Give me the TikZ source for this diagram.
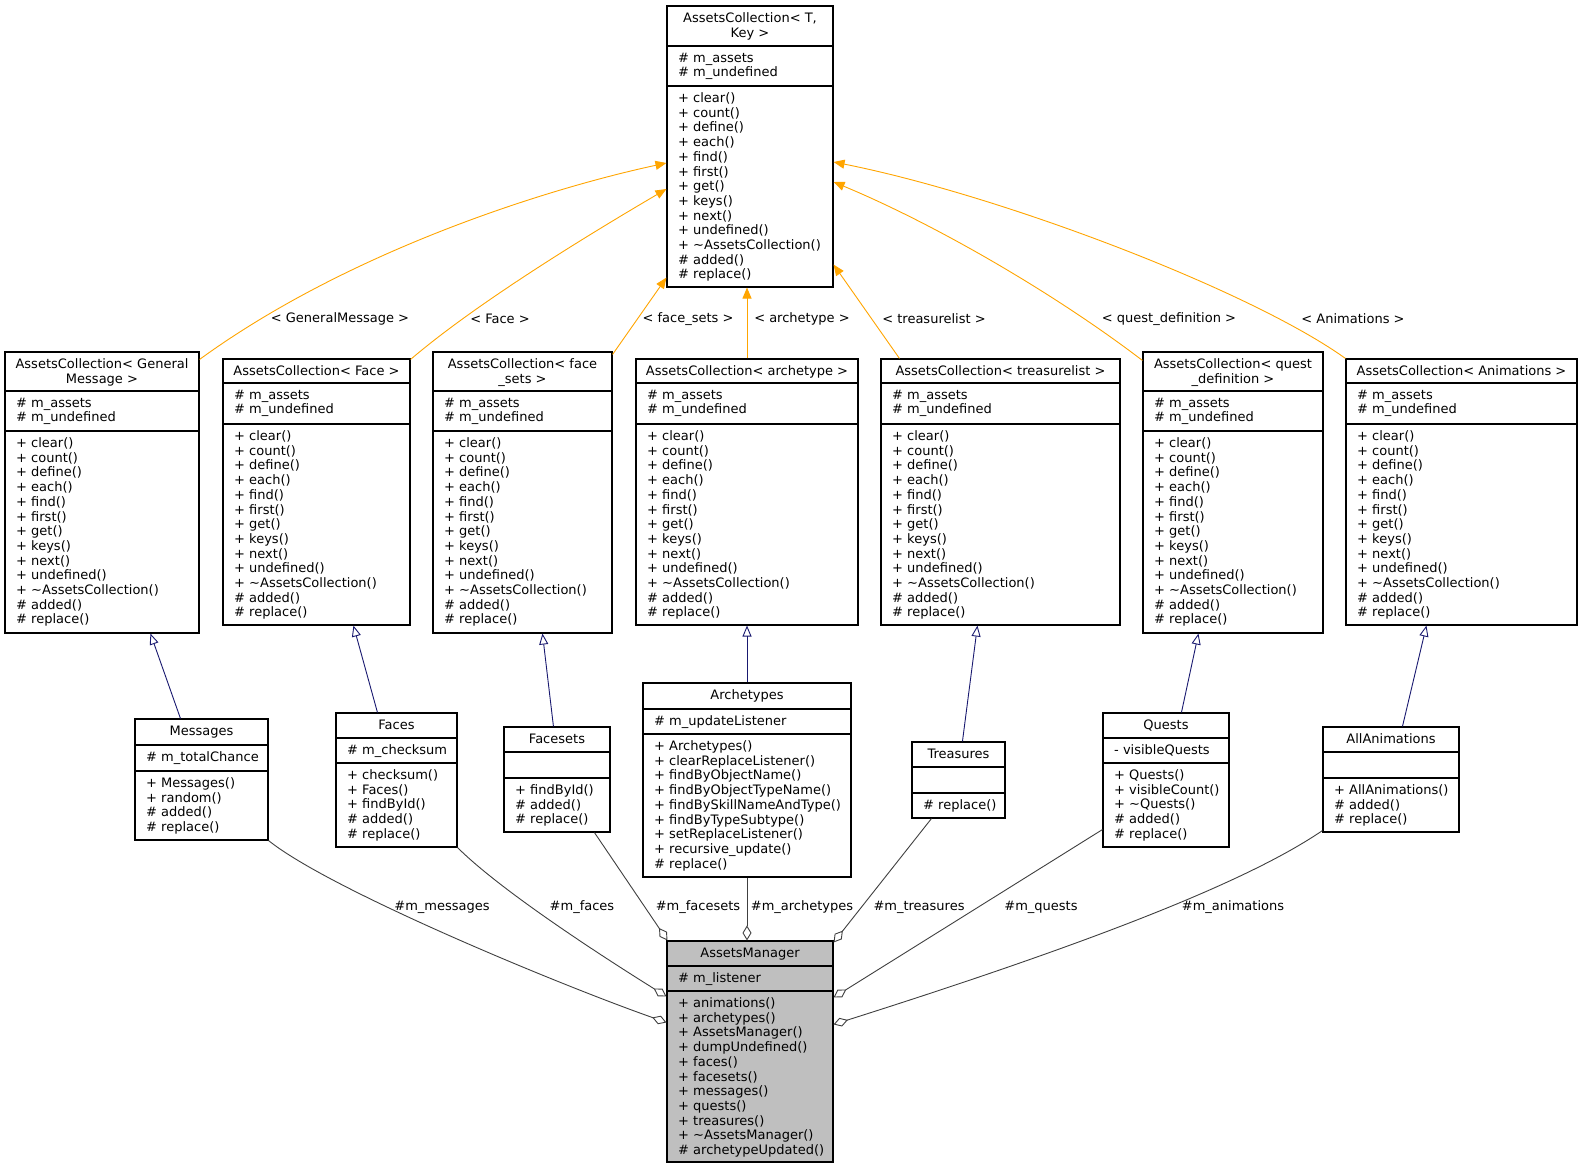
\documentclass[tikz,border=0pt]{standalone}
\usepackage{fontspec}
\setmainfont{DejaVu Sans}
\usetikzlibrary{arrows.meta,fit,calc}
\definecolor{inh}{HTML}{FFA500}
\definecolor{nav}{HTML}{191970}
\definecolor{agg}{HTML}{404040}
\definecolor{mgr}{HTML}{BFBFBF}
\tikzset{
  box/.style={draw=black,line width=1.1pt,inner sep=0pt},
  sep/.style={line width=1.1pt},
  txt/.style={inner sep=0pt,font=\fontsize{13}{14.7}\selectfont},
  lbl/.style={inner sep=1pt,font=\fontsize{13}{14.7}\selectfont},
  tmpl/.style={draw=inh,line width=0.9pt,-{Triangle[length=11pt,width=9pt,fill=inh]}},
  isa/.style={draw=nav,line width=0.9pt,-{Triangle[open,length=11pt,width=9pt]}},
  has/.style={draw=agg,line width=0.9pt,-{Diamond[open,length=15pt,width=9pt]}}
}
\newcommand\ubox[8]{%
  \node[box,fill=#8,fit={(#2,#3)(#4,#7)}] (#1) {};
  \draw[sep] (#2,#5) -- (#4,#5);
  \draw[sep] (#2,#6) -- (#4,#6);}
\newcommand\utitle[5]{\node[txt,align=center,anchor=north] (#1) at ({(#2+#3)/2},#4+6.5) {#5};}
\newcommand\umem[4]{\node[txt,align=left,anchor=north west] (#1) at (#2+11,#3+6.5) {#4};}
\newcommand\stdmeth{+ clear()\\+ count()\\+ define()\\+ each()\\+ find()\\+ first()\\+ get()\\+ keys()\\+ next()\\+ undefined()\\+ \textasciitilde AssetsCollection()\\\# added()\\\# replace()}
\newcommand\stdattr{\# m\_assets\\\# m\_undefined}
\begin{document}
\begin{tikzpicture}[x=1pt,y=-1pt]
\useasboundingbox[fill=white] (0,0) rectangle (1590,1169);
% top template
\ubox{T}{667}{6}{833}{46}{86}{287}{white}
\utitle{Tt}{667}{833}{6}{AssetsCollection< T,\\Key >}
\umem{Ta}{667}{46}{\stdattr}\umem{Tm}{667}{86}{\stdmeth}
% instantiations
\ubox{G}{5}{352}{199}{391}{431}{633}{white}
\utitle{Gt}{5}{199}{352}{AssetsCollection< General\\Message >}
\umem{Ga}{5}{391}{\stdattr}\umem{Gm}{5}{431}{\stdmeth}
\ubox{F}{223}{359}{410}{383}{424}{625}{white}
\utitle{Ft}{223}{410}{359}{AssetsCollection< Face >}
\umem{Fa}{223}{383}{\stdattr}\umem{Fm}{223}{424}{\stdmeth}
\ubox{FS}{433}{352}{612}{391}{431}{633}{white}
\utitle{FSt}{433}{612}{352}{AssetsCollection< face\\\_sets >}
\umem{FSa}{433}{391}{\stdattr}\umem{FSm}{433}{431}{\stdmeth}
\ubox{A}{636}{359}{858}{383}{424}{625}{white}
\utitle{At}{636}{858}{359}{AssetsCollection< archetype >}
\umem{Aa}{636}{383}{\stdattr}\umem{Am}{636}{424}{\stdmeth}
\ubox{TR}{881}{359}{1120}{383}{424}{625}{white}
\utitle{TRt}{881}{1120}{359}{AssetsCollection< treasurelist >}
\umem{TRa}{881}{383}{\stdattr}\umem{TRm}{881}{424}{\stdmeth}
\ubox{Q}{1143}{352}{1323}{391}{431}{633}{white}
\utitle{Qt}{1143}{1323}{352}{AssetsCollection< quest\\\_definition >}
\umem{Qa}{1143}{391}{\stdattr}\umem{Qm}{1143}{431}{\stdmeth}
\ubox{AN}{1346}{359}{1577}{383}{424}{625}{white}
\utitle{ANt}{1346}{1577}{359}{AssetsCollection< Animations >}
\umem{ANa}{1346}{383}{\stdattr}\umem{ANm}{1346}{424}{\stdmeth}
% derived classes
\ubox{M}{135}{719}{268}{745}{771}{840}{white}
\utitle{Mt}{135}{268}{719}{Messages}
\umem{Ma}{135}{745}{\# m\_totalChance}
\umem{Mm}{135}{771}{+ Messages()\\+ random()\\\# added()\\\# replace()}
\ubox{FC}{336}{713}{457}{738}{763}{847}{white}
\utitle{FCt}{336}{457}{713}{Faces}
\umem{FCa}{336}{738}{\# m\_checksum}
\umem{FCm}{336}{763}{+ checksum()\\+ Faces()\\+ findById()\\\# added()\\\# replace()}
\ubox{FZ}{504}{727}{610}{752}{778}{832}{white}
\utitle{FZt}{504}{610}{727}{Facesets}
\umem{FZm}{504}{778}{+ findById()\\\# added()\\\# replace()}
\ubox{AR}{643}{683}{851}{709}{734}{877}{white}
\utitle{ARt}{643}{851}{683}{Archetypes}
\umem{ARa}{643}{709}{\# m\_updateListener}
\umem{ARm}{643}{734}{+ Archetypes()\\+ clearReplaceListener()\\+ findByObjectName()\\+ findByObjectTypeName()\\+ findBySkillNameAndType()\\+ findByTypeSubtype()\\+ setReplaceListener()\\+ recursive\_update()\\\# replace()}
\ubox{TS}{912}{742}{1005}{767}{793}{818}{white}
\utitle{TSt}{912}{1005}{742}{Treasures}
\umem{TSm}{912}{793}{\# replace()}
\ubox{QS}{1103}{713}{1229}{738}{763}{847}{white}
\utitle{QSt}{1103}{1229}{713}{Quests}
\umem{QSa}{1103}{738}{- visibleQuests}
\umem{QSm}{1103}{763}{+ Quests()\\+ visibleCount()\\+ \textasciitilde Quests()\\\# added()\\\# replace()}
\ubox{AA}{1323}{727}{1459}{752}{778}{832}{white}
\utitle{AAt}{1323}{1459}{727}{AllAnimations}
\umem{AAm}{1323}{778}{+ AllAnimations()\\\# added()\\\# replace()}
% manager
\ubox{AM}{667}{941}{833}{966}{991}{1162}{mgr}
\utitle{AMt}{667}{833}{941}{AssetsManager}
\umem{AMa}{667}{966}{\# m\_listener}
\umem{AMm}{667}{991}{+ animations()\\+ archetypes()\\+ AssetsManager()\\+ dumpUndefined()\\+ faces()\\+ facesets()\\+ messages()\\+ quests()\\+ treasures()\\+ \textasciitilde AssetsManager()\\\# archetypeUpdated()}
% template edges
\draw[tmpl] ($(G.north east)+(0,8)$) .. controls (350,250) and (550,188) .. ($(T.west)+(0,16.5)$);
\draw[tmpl] ($(F.north east)+(0,1)$) .. controls (480,300) and (600,228) .. ($(T.west)+(0,42.5)$);
\draw[tmpl] ($(FS.north east)+(0,3)$) -- ($(T.south west)+(0,-10)$);
\draw[tmpl] (A.north) -- (A.north |- T.south);
\draw[tmpl] ($(TR.north west)+(19,0)$) -- ($(T.south east)+(0,-23)$);
\draw[tmpl] ($(Q.north west)+(0,9)$) .. controls (1050,290) and (930,222) .. ($(T.east)+(0,35.5)$);
\draw[tmpl] (AN.north west) .. controls (1250,290) and (1000,195) .. ($(T.east)+(0,15.5)$);
\node[lbl] (l1) at (340,319) {< GeneralMessage >};
\node[lbl] (l2) at (500,319) {< Face >};
\node[lbl] (l3) at (688,319) {< face\_sets >};
\node[lbl] (l4) at (802,319) {< archetype >};
\node[lbl] (l5) at (934,319) {< treasurelist >};
\node[lbl] (l6) at (1169,319) {< quest\_definition >};
\node[lbl] (l7) at (1353,319) {< Animations >};
% inheritance edges
\draw[isa] ($(M.north west)+(46,0)$) -- ($(G.south west)+(146,0)$);
\draw[isa] ($(FC.north west)+(42,0)$) -- ($(F.south west)+(131,0)$);
\draw[isa] ($(FZ.north west)+(50,0)$) -- ($(FS.south west)+(110,0)$);
\draw[isa] (AR.north) -- (AR.north |- A.south);
\draw[isa] ($(TS.north west)+(51,0)$) -- ($(TR.south west)+(97,0)$);
\draw[isa] ($(QS.north west)+(79,0)$) -- ($(Q.south west)+(56,0)$);
\draw[isa] ($(AA.north west)+(80,0)$) -- ($(AN.south west)+(81,0)$);
% aggregation edges
\draw[has] (M.south east) .. controls (330,890) and (560,985) .. ($(AM.north west)+(0,82)$);
\draw[has] (FC.south east) .. controls (500,890) and (600,955) .. ($(AM.north west)+(0,56)$);
\draw[has] ($(FZ.south west)+(91,0)$) -- ($(AM.north west)+(1,0)$);
\draw[has] (AR.south) -- (AR.south |- AM.north);
\draw[has] ($(TS.south west)+(20,0)$) -- ($(AM.north east)+(0,2)$);
\draw[has] ($(QS.south west)+(0,-18)$) -- ($(AM.north east)+(0,57)$);
\draw[has] ($(AA.south west)+(0,-2)$) .. controls (1250,880) and (1100,940) .. ($(AM.north east)+(0,84)$);
\node[lbl] (m1) at (442,907) {\#m\_messages};
\node[lbl] (m2) at (582,907) {\#m\_faces};
\node[lbl] (m3) at (698,907) {\#m\_facesets};
\node[lbl] (m4) at (802,907) {\#m\_archetypes};
\node[lbl] (m5) at (919,907) {\#m\_treasures};
\node[lbl] (m6) at (1041,907) {\#m\_quests};
\node[lbl] (m7) at (1233,907) {\#m\_animations};
\end{tikzpicture}
\end{document}
